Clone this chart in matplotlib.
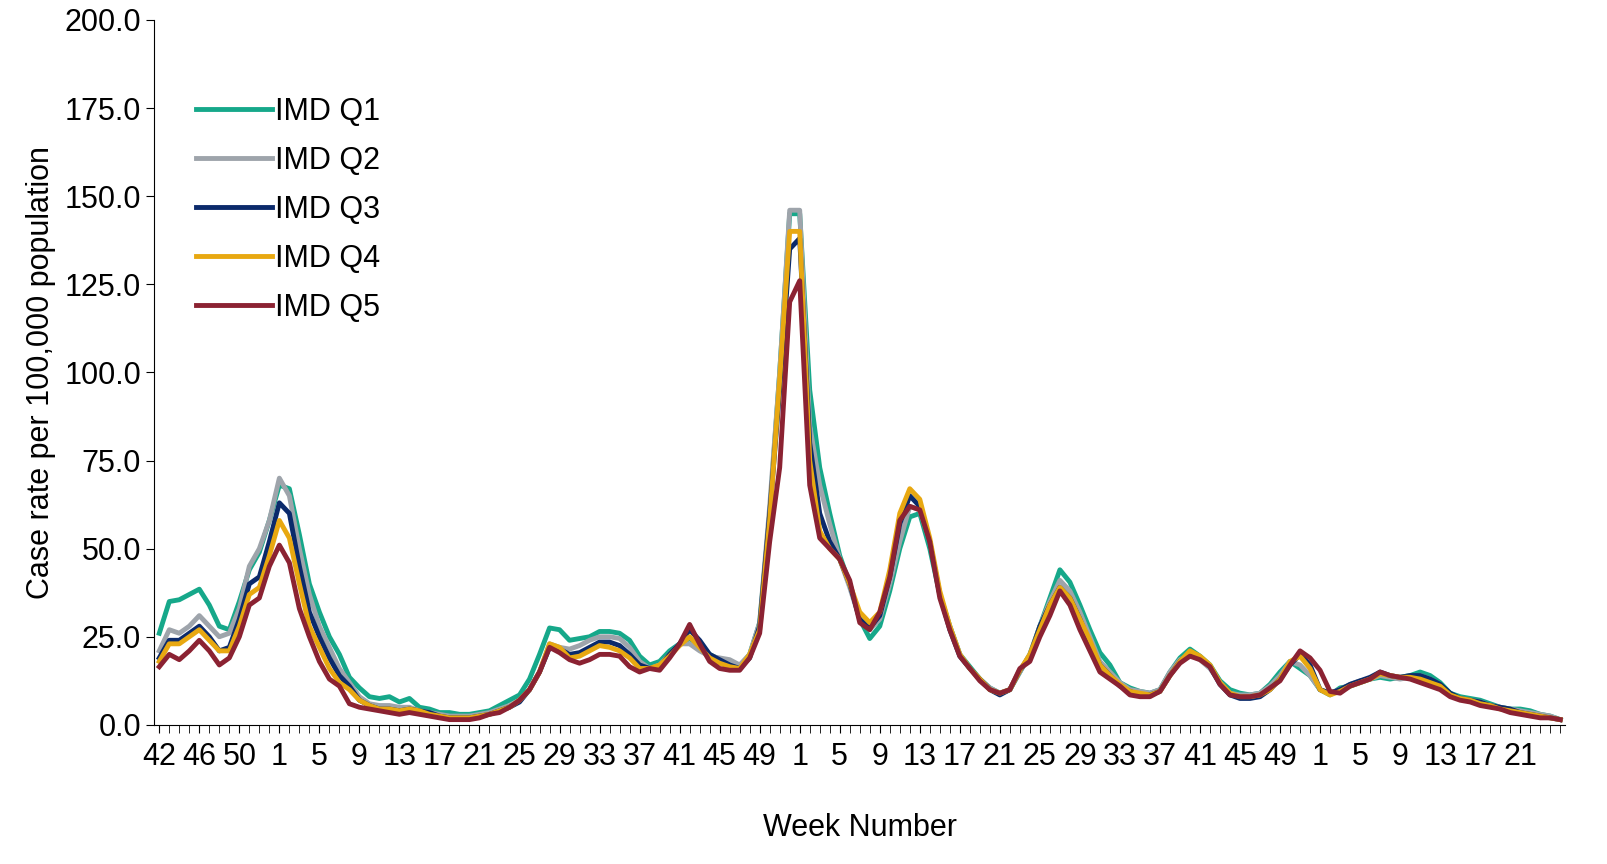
import numpy as np
import matplotlib
matplotlib.use("Agg")
from matplotlib import pyplot as plt

plt.rcParams['font.family'] = ['Liberation Sans', 'DejaVu Sans']

weeks = list(range(42, 54)) + list(range(1, 53)) + list(range(1, 53)) + list(range(1, 26))

q1 = [26, 35, 35.5, 37, 38.5, 34, 28, 27, 35, 44, 49, 58,
      68, 67, 54, 40, 32, 25, 20, 13.5, 10.5, 8, 7.5, 8, 6.5, 7.5, 5, 4.5, 3.5, 3.5, 3, 3, 3.5, 4, 5.5, 7, 8.5, 13,
      20, 27.5, 27, 24, 24.5, 25, 26.5, 26.5, 26, 24, 19.5, 17, 18, 21, 23, 24.5, 22.5, 20, 18.5, 18, 16.5, 20, 29, 60, 100, 145,
      145, 95, 73, 60, 48, 40, 30, 24.5, 28, 38, 50, 59, 60, 50, 37, 28, 20, 16.5, 13, 10.5, 9, 10, 15, 20, 28, 36,
      44, 40.5, 34, 27, 20.5, 17, 12, 10.5, 9.5, 9, 10, 15, 19, 21.5, 19.5, 17, 12.5, 10, 9, 8.5, 9, 11.5, 15, 18, 16, 14,
      10, 8.5, 10.5, 11, 12, 13, 13.5, 13, 13.5, 14, 15, 14, 12, 9, 8, 7.5, 7, 6, 5, 4.5, 4.5, 4, 3, 2.5, 1.5]
q2 = [21, 27, 26, 28, 31, 28, 25, 26, 33, 45, 50, 58,
      70, 65, 50, 37, 28, 22, 16, 12, 8, 6, 5.5, 5.5, 5, 5, 4, 3.5, 3, 2.5, 2.5, 2.5, 3, 3.5, 4.5, 5.5, 7, 10,
      15, 23, 22, 21.5, 22.5, 24, 25, 25, 24.5, 22, 18, 16, 17, 20, 23, 23, 21, 19.5, 19, 18.5, 17, 20, 29, 62, 100, 146,
      146, 85, 68, 57, 47, 39, 30, 27, 30, 40, 52, 62, 61, 52, 37, 28, 20, 16, 13, 10.5, 9, 10, 15, 20, 28, 35,
      41, 38, 32, 25, 18, 15, 12, 10, 9.5, 9, 10, 15, 18.5, 20, 18.5, 16, 12, 9, 8.5, 8.5, 9, 11, 14, 18, 17, 14,
      10, 9, 10, 11.5, 12.5, 13, 14, 13.5, 13, 13.5, 14, 13, 11, 8.5, 7.5, 7, 6.5, 5.5, 5, 4.5, 4, 3.5, 3, 2.5, 1.5]
q3 = [19, 24, 24, 26, 28, 25, 21, 22, 30, 40, 42, 52,
      63, 60, 45, 32, 25, 19, 14, 11, 7, 5.5, 4.5, 4.5, 4, 4.5, 4, 3.5, 2.5, 2, 2, 2, 2.5, 3, 4, 5, 6.5, 10,
      15, 22, 21.5, 20, 20.5, 22, 23.5, 23.5, 22.5, 20, 17, 16, 16.5, 20, 23, 27, 24, 20, 18.5, 17, 16, 19, 28, 60, 95, 135,
      138, 80, 60, 52, 47, 40, 30, 27.5, 31, 42, 57, 65, 62, 52, 37, 27, 19.5, 16, 13, 10, 8.5, 10, 15.5, 19.5, 28, 34,
      39, 36, 30, 23, 17, 14, 11, 9.5, 8.5, 8.5, 9.5, 14, 18, 20.5, 19, 16.5, 11.5, 8.5, 7.5, 7.5, 8, 10, 13, 17, 20, 17,
      10, 9, 10, 11.5, 12.5, 13.5, 15, 14, 13.5, 14, 14, 13, 11.5, 9, 7.5, 7, 6.5, 5.5, 5, 4.5, 3.5, 3, 2.5, 2, 1.5]
q4 = [18, 23, 23, 25, 27, 24, 21, 21, 28, 37, 39, 48,
      58, 53, 40, 28, 22, 16, 12, 10, 7, 5.5, 4.5, 4.5, 4, 4.5, 4, 3, 2.5, 2, 2, 2, 2.5, 3, 4, 5, 7, 10,
      15, 23, 22, 19, 19.5, 21, 22.5, 22, 21, 19, 16, 16, 17, 19.5, 22.5, 25, 22, 19, 17.5, 16.5, 16, 20, 27, 58, 98, 140,
      140, 75, 55, 50, 47, 40, 32, 29, 32, 44, 60, 67, 64, 53, 38, 28, 20, 16, 13, 10, 9, 10, 15.5, 20, 27, 34,
      39, 36, 30, 24, 17, 14, 11.5, 9.5, 9, 8.5, 9.5, 14, 18, 21, 19.5, 17, 12, 9, 8, 8, 8.5, 10, 13, 18, 19.5, 16,
      10, 8.5, 9.5, 11, 12, 13, 14.5, 14, 13.5, 13.5, 13, 12, 11, 8.5, 7.5, 7, 6, 5.5, 4.5, 4, 3.5, 3, 2.5, 2, 1.5]
q5 = [16.5, 20, 18.5, 21, 24, 21, 17, 19, 25, 34, 36, 45,
      51, 46, 33, 25, 18, 13, 11, 6, 5, 4.5, 4, 3.5, 3, 3.5, 3, 2.5, 2, 1.5, 1.5, 1.5, 2, 3, 3.5, 5, 7, 10,
      15, 22, 20.5, 18.5, 17.5, 18.5, 20, 20, 19.5, 16.5, 15, 16, 15.5, 19, 23, 28.5, 23, 18, 16, 15.5, 15.5, 19, 26, 52, 73, 120,
      126, 68, 53, 50, 47, 41, 29, 27, 32, 42, 58, 62, 61, 52, 36, 27, 19.5, 16, 12.5, 10, 9, 10, 16, 18, 25, 31,
      38, 34, 27, 21, 15, 13, 11, 8.5, 8, 8, 9.5, 14, 17.5, 19.5, 18.5, 16.5, 11.5, 8.5, 8, 8, 8.5, 10.5, 12.5, 17, 21, 19,
      15.5, 9.5, 9, 11, 12, 13, 15, 14, 13.5, 13, 12, 11, 10, 8, 7, 6.5, 5.5, 5, 4.5, 3.5, 3, 2.5, 2, 2, 1.5]

series = [("IMD Q1", q1, "#16a88a"), ("IMD Q2", q2, "#9ea4ab"), ("IMD Q3", q3, "#0b2a6b"),
          ("IMD Q4", q4, "#e8a811"), ("IMD Q5", q5, "#8b2232")]


def main():
    fig = plt.figure(figsize=(16.07, 8.64), dpi=100)
    ax = fig.add_axes([0.096, 0.161, 0.878, 0.816])
    x = np.arange(len(weeks))
    for name, vals, col in series:
        assert len(vals) == len(weeks), (name, len(vals))
        ax.plot(x, vals, color=col, lw=3.5, label=name)

    fs = 22
    ax.set_xlim(-0.5, len(weeks) - 0.5)
    ax.set_ylim(0, 200)
    ax.set_yticks(np.arange(0, 201, 25))
    ax.set_yticklabels(["%.1f" % v for v in np.arange(0, 201, 25)], fontsize=fs)
    ax.set_xticks(x[:-1:4])
    ax.set_xticklabels([str(w) for w in weeks[:-1:4]], fontsize=fs)
    ax.set_xticks(x, minor=True)
    ax.tick_params(axis='x', which='both', length=6, pad=6)
    ax.tick_params(axis='y', length=6)
    for s in ['top', 'right']:
        ax.spines[s].set_visible(False)
    ax.set_xlabel("Week Number", fontsize=fs, labelpad=30)
    ax.set_ylabel("Case rate per 100,000 population", fontsize=fs, labelpad=6)
    ax.legend(loc='upper left', bbox_to_anchor=(0.01, 0.93), frameon=False, fontsize=fs,
              handlelength=2.5, handletextpad=0.1, labelspacing=0.62)
    plt.savefig("out.png", dpi=100)


if __name__ == "__main__":
    main()
